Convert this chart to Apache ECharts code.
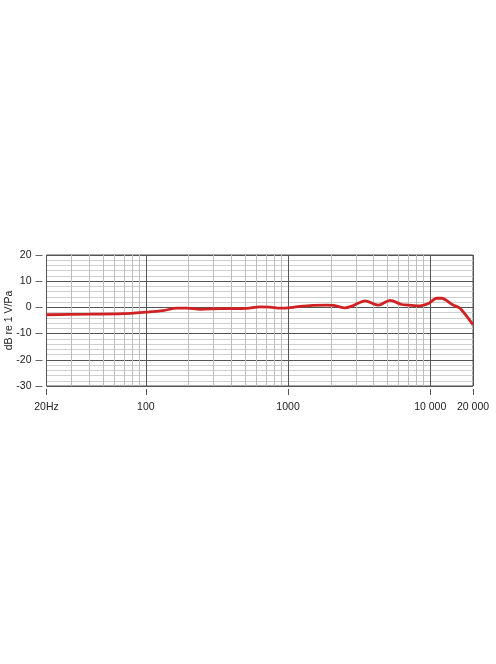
<!DOCTYPE html>
<html>
<head>
<meta charset="utf-8">
<script src="https://cdn.jsdelivr.net/npm/echarts@6/dist/echarts.min.js"></script>
<style>html,body{margin:0;padding:0;background:#fff}#c{width:496px;height:664px}</style>
</head>
<body>
<div id="c"></div>
<script>
// Frequency (Hz) and response (dB re 1 V/Pa)
var freqs = [20, 40, 69, 100, 132, 165, 194, 240, 332, 512, 631, 746, 878, 1000, 1213, 1504, 1866, 2100, 2512, 2876, 3477, 4312, 5212, 6300, 7000, 8470, 9800, 11100, 12000, 14500, 16200, 20000];
var levels = [-2.8, -2.6, -2.4, -1.8, -1.2, -0.3, -0.3, -0.7, -0.5, -0.4, 0.2, 0.1, -0.3, -0.2, 0.4, 0.8, 0.9, 0.8, -0.2, 0.7, 2.5, 0.9, 2.7, 1.1, 0.9, 0.6, 1.6, 3.5, 3.5, 0.9, -0.3, -6.6];
var minorFreqs = [30, 40, 50, 60, 70, 80, 90, 200, 300, 400, 500, 600, 700, 800, 900, 2000, 3000, 4000, 5000, 6000, 7000, 8000, 9000];
var xTickLabels = {20: '20Hz', 100: '100', 1000: '1000', 10000: '10 000', 20000: '20 000'};
var yTicks = {min: -30, max: 20, step: 10};
var yName = 'dB re 1 V/Pa';

var chart = echarts.init(document.getElementById('c'));
var font = 'Liberation Sans, Arial, sans-serif';
chart.setOption({
  animation: false,
  grid: {left: 46.5, right: 23, top: 255, bottom: 278, containLabel: false, outerBoundsMode: 'none',
    show: true, borderColor: '#555', borderWidth: 1, backgroundColor: 'transparent'},
  xAxis: {
    type: 'log', logBase: 10, min: 20, max: 20000, offset: 3,
    axisLine: {show: false, onZero: false},
    axisTick: {show: true, interval: 0, inside: false, length: 6, lineStyle: {color: '#555', width: 1}},
    axisLabel: {margin: 13, fontFamily: font, fontSize: 10.5, color: '#222',
      showMinLabel: true, showMaxLabel: true,
      formatter: function (v) {
        var r = Math.round(v);
        return xTickLabels[r] !== undefined ? xTickLabels[r] : '';
      }},
    splitLine: {show: true, lineStyle: {color: '#555', width: 1}},
    minorTick: {show: false}, minorSplitLine: {show: false}
  },
  yAxis: {
    type: 'value', min: yTicks.min, max: yTicks.max, interval: yTicks.step, offset: 4,
    name: yName, nameLocation: 'middle', nameGap: 28, nameRotate: 90, nameMoveOverlap: false,
    nameTextStyle: {fontFamily: font, fontSize: 10.5, color: '#222'},
    axisLine: {show: false, onZero: false},
    axisTick: {show: true, length: 7, lineStyle: {color: '#666'}},
    axisLabel: {margin: 11, fontFamily: font, fontSize: 10.5, color: '#222'},
    splitLine: {show: true, lineStyle: {color: '#555', width: 1}},
    minorTick: {show: false, splitNumber: 5},
    minorSplitLine: {show: true, lineStyle: {color: '#cfcfcf', width: 1}}
  },
  series: [{
    type: 'line',
    data: freqs.map(function (f, i) { return [f, levels[i]]; }),
    smooth: 0.3,
    symbol: 'none',
    lineStyle: {color: '#d02222', width: 2.8},
    z: 5,
    markLine: {
      silent: true, symbol: 'none', label: {show: false},
      lineStyle: {color: '#bdbdbd', width: 1, type: 'solid'},
      data: minorFreqs.map(function (f) { return {xAxis: f}; }),
      z: 1
    }
  }]
});
</script>
</body>
</html>
